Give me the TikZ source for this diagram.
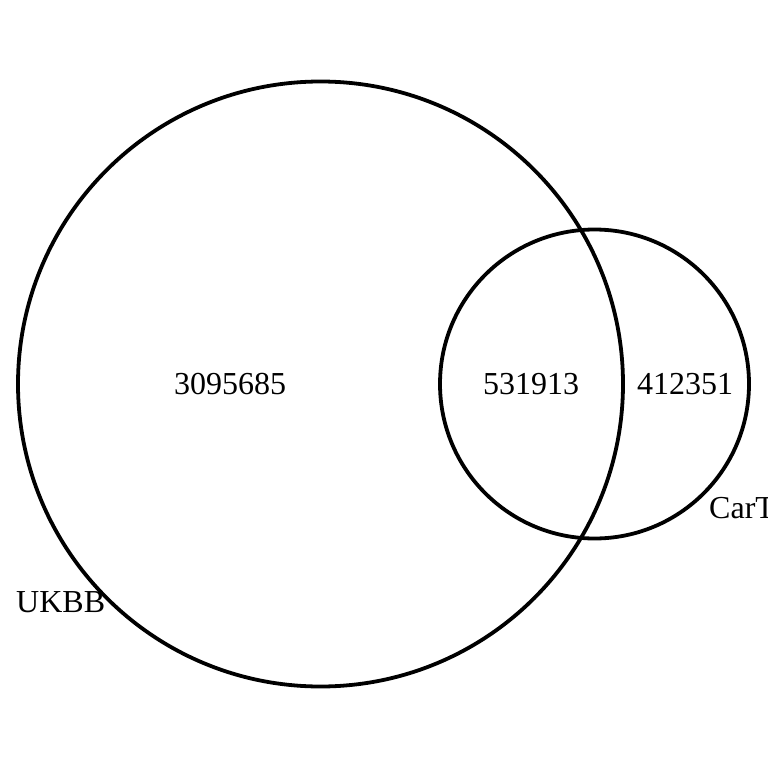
\documentclass[tikz,border=0pt]{standalone}
\usepackage{fontspec}
\setmainfont{Liberation Serif}
\begin{document}
\begin{tikzpicture}[x=1pt,y=-1pt,
  setcircle/.style={draw=black,line width=3.8pt},
  lbl/.style={inner sep=0pt,font=\fontsize{32}{38}\selectfont}]
\useasboundingbox (0,0) rectangle (768,768);
\fill[white] (0,0) rectangle (768,768);
\node[setcircle,circle,minimum size=605pt,inner sep=0pt] (ukbb) at (320.5,384) {};
\node[setcircle,circle,minimum size=309pt,inner sep=0pt] (cart) at (594.5,384) {};
\node[lbl] (a) at (230,384) {3095685};
\node[lbl] (ab) at (531,384) {531913};
\node[lbl] (b) at (685,384) {412351};
\node[lbl,anchor=base west] (la) at (16,612) {UKBB};
\node[lbl,anchor=base west] (lb) at (709,518) {CarT};
\end{tikzpicture}
\end{document}
